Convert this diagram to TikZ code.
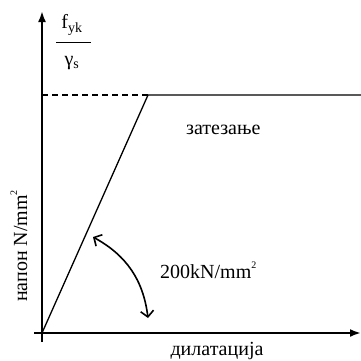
\documentclass[tikz,border=0pt]{standalone}
\usepackage{fontspec}
\setmainfont{Liberation Serif}
\usetikzlibrary{arrows.meta}
\newcommand{\mysup}[1]{\raisebox{0.5em}{\fontsize{10}{10}\selectfont #1}}
\begin{document}
\begin{tikzpicture}[x=1pt,y=-1pt,
  axis/.style={line width=2.4pt,-{Latex[length=11pt,width=8pt]}},
  thin/.style={line width=1.3pt},
  lbl/.style={font=\fontsize{20}{22}\selectfont,inner sep=0pt}]
\useasboundingbox (0,0) rectangle (361,360);
\coordinate (o) at (42,333);
\coordinate (ytip) at (42,11);
\coordinate (xs) at (34,333);
\coordinate (xtip) at (361,333);
\coordinate (ys) at (42,342);
\coordinate (y0) at (42,95);
\coordinate (k) at (148,95);
\coordinate (e) at (361,95);
\coordinate (a1) at (93,237);
\coordinate (a2) at (148,318);
\draw[axis] (ys) -- (ytip);
\draw[axis] (xs) -- (xtip);
\draw[thin,dashed,dash pattern=on 6pt off 4pt] (y0) -- (k);
\draw[thin] (o) -- (k) -- (e);
\draw[line width=1.6pt,{Straight Barb[length=6pt,width=13pt]}-{Straight Barb[length=6pt,width=13pt]}]
  (a1) to[bend left=27] (a2);
\node[lbl] (fyk) at (72,25) {f\textsubscript{yk}};
\draw[line width=1pt] (56,42) -- (91,42);
\node[lbl] (gs) at (72,63) {γ\textsubscript{s}};
\node[lbl,anchor=west] (zat) at (186,130) {затезање};
\node[lbl,anchor=west] (mod) at (160,270) {200kN/mm\mysup{2}};
\node[lbl,rotate=90] (nap) at (19,246) {напон N/mm\mysup{2}};
\node[lbl] (dil) at (217,351) {дилатација};
\end{tikzpicture}
\end{document}
